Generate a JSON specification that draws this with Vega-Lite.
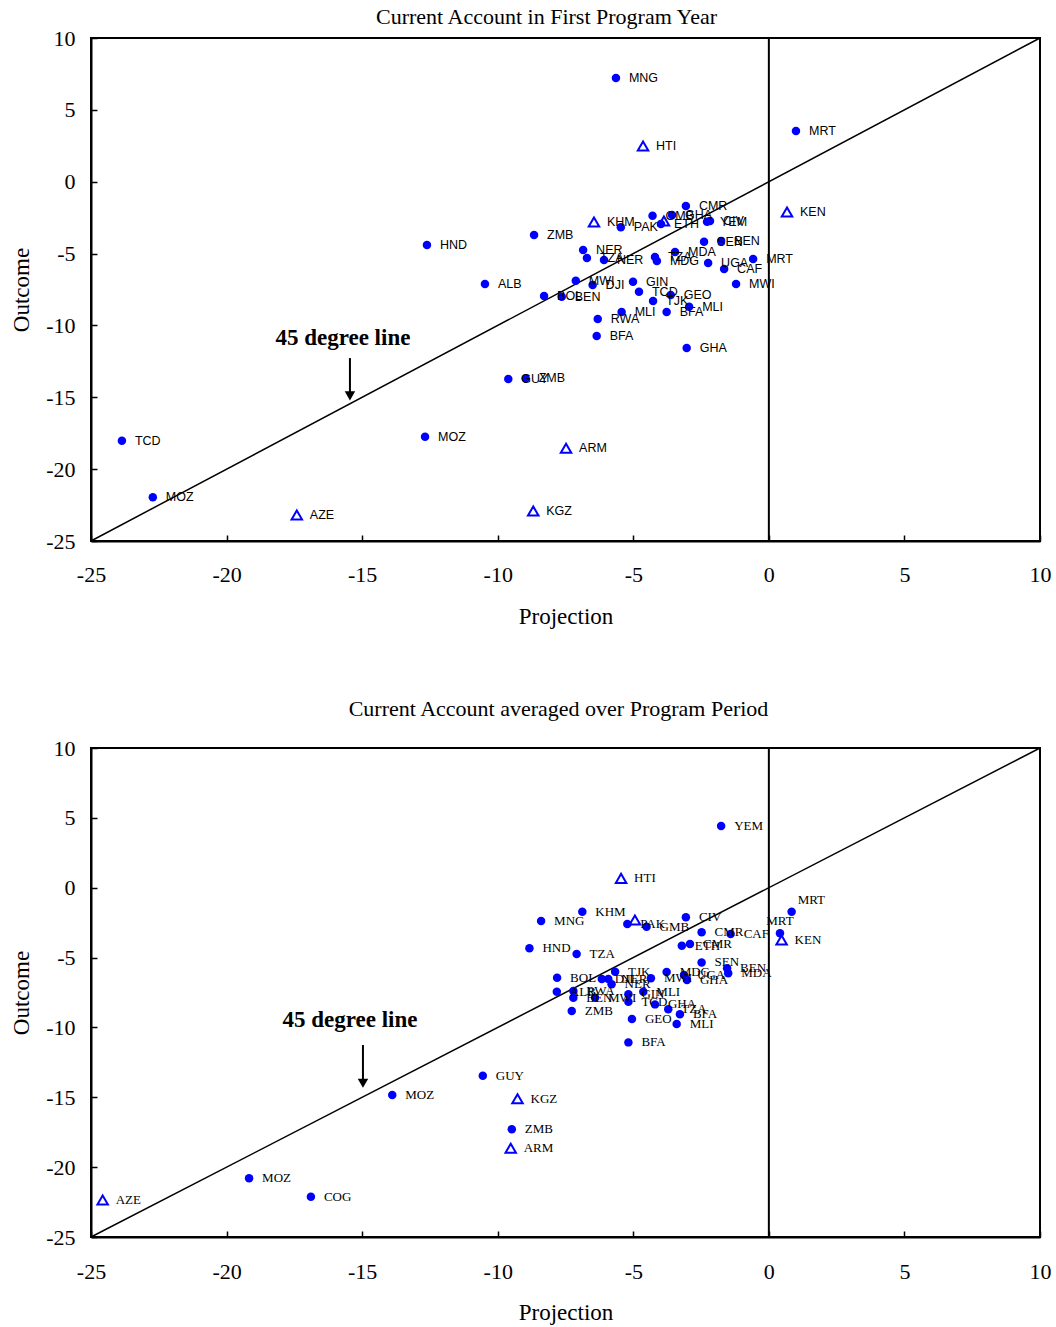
{
  "$schema": "https://vega.github.io/schema/vega-lite/v6.json",
  "padding": {"left": 9, "top": 5, "right": 10, "bottom": 5},
  "background": "white",
  "config": {
    "view": {"stroke": "black", "strokeWidth": 2},
    "font": "Liberation Serif",
    "axis": {
      "grid": false,
      "tickSize": -6,
      "tickColor": "black",
      "tickWidth": 1.5,
      "domainColor": "black",
      "domainWidth": 2,
      "labelFont": "Liberation Serif",
      "labelFontSize": 22,
      "labelColor": "black",
      "labelFlush": false,
      "labelOverlap": false,
      "titleFont": "Liberation Serif",
      "titleFontSize": 23,
      "titleFontWeight": "normal",
      "titleColor": "black"
    },
    "title": {"font": "Liberation Serif", "fontSize": 22, "fontWeight": "normal", "color": "black"}
  },
  "datasets": {
    "top": [
      {"c": "MNG", "x": -5.64, "y": 7.22, "m": "dot"},
      {"c": "MRT", "x": 1.00, "y": 3.53, "m": "dot"},
      {"c": "HTI", "x": -4.64, "y": 2.48, "m": "tri"},
      {"c": "KEN", "x": 0.67, "y": -2.11, "m": "tri"},
      {"c": "CMR", "x": -3.06, "y": -1.69, "m": "dot"},
      {"c": "KHM", "x": -6.45, "y": -2.80, "m": "tri"},
      {"c": "PAK", "x": -5.46, "y": -3.17, "m": "dot"},
      {"c": "GMB", "x": -4.29, "y": -2.37, "m": "dot"},
      {"c": "GHA", "x": -3.57, "y": -2.32, "m": "dot"},
      {"c": "", "x": -3.87, "y": -2.73, "m": "tri"},
      {"c": "ETH", "x": -3.98, "y": -2.94, "m": "dot"},
      {"c": "YEM", "x": -2.28, "y": -2.78, "m": "dot"},
      {"c": "CIV", "x": -2.17, "y": -2.74, "m": "dot"},
      {"c": "SEN", "x": -2.39, "y": -4.17, "m": "dot"},
      {"c": "BEN", "x": -1.76, "y": -4.13, "m": "dot"},
      {"c": "NER", "x": -6.85, "y": -4.75, "m": "dot"},
      {"c": "TZA", "x": -6.71, "y": -5.31, "m": "dot"},
      {"c": "NER", "x": -6.08, "y": -5.45, "m": "dot"},
      {"c": "TZA", "x": -4.20, "y": -5.24, "m": "dot"},
      {"c": "MDG", "x": -4.13, "y": -5.52, "m": "dot"},
      {"c": "MDA", "x": -3.46, "y": -4.89, "m": "dot"},
      {"c": "UGA", "x": -2.24, "y": -5.66, "m": "dot"},
      {"c": "CAF", "x": -1.65, "y": -6.07, "m": "dot"},
      {"c": "MRT", "x": -0.58, "y": -5.38, "m": "dot"},
      {"c": "MWI", "x": -1.21, "y": -7.12, "m": "dot"},
      {"c": "ZMB", "x": -8.66, "y": -3.71, "m": "dot"},
      {"c": "HND", "x": -12.61, "y": -4.40, "m": "dot"},
      {"c": "ALB", "x": -10.47, "y": -7.12, "m": "dot"},
      {"c": "MWI", "x": -7.12, "y": -6.89, "m": "dot"},
      {"c": "DJI", "x": -6.50, "y": -7.19, "m": "dot"},
      {"c": "GIN", "x": -5.01, "y": -6.96, "m": "dot"},
      {"c": "TCD", "x": -4.79, "y": -7.65, "m": "dot"},
      {"c": "GEO", "x": -3.62, "y": -7.88, "m": "dot"},
      {"c": "TJK", "x": -4.27, "y": -8.30, "m": "dot"},
      {"c": "MLI", "x": -2.94, "y": -8.70, "m": "dot"},
      {"c": "BFA", "x": -3.77, "y": -9.07, "m": "dot"},
      {"c": "MLI", "x": -5.43, "y": -9.07, "m": "dot"},
      {"c": "RWA", "x": -6.31, "y": -9.55, "m": "dot"},
      {"c": "BFA", "x": -6.35, "y": -10.74, "m": "dot"},
      {"c": "GHA", "x": -3.03, "y": -11.57, "m": "dot"},
      {"c": "BOL", "x": -8.29, "y": -7.95, "m": "dot"},
      {"c": "BEN", "x": -7.64, "y": -8.00, "m": "dot"},
      {"c": "GUY", "x": -9.61, "y": -13.73, "m": "dot"},
      {"c": "ZMB", "x": -8.97, "y": -13.68, "m": "dot"},
      {"c": "MOZ", "x": -12.68, "y": -17.74, "m": "dot"},
      {"c": "ARM", "x": -7.48, "y": -18.55, "m": "tri"},
      {"c": "KGZ", "x": -8.69, "y": -22.91, "m": "tri"},
      {"c": "TCD", "x": -23.86, "y": -18.02, "m": "dot"},
      {"c": "MOZ", "x": -22.72, "y": -21.96, "m": "dot"},
      {"c": "AZE", "x": -17.41, "y": -23.19, "m": "tri"}
    ],
    "bot": [
      {"c": "YEM", "x": -1.76, "y": 4.42, "m": "dot"},
      {"c": "HTI", "x": -5.45, "y": 0.67, "m": "tri"},
      {"c": "KHM", "x": -6.88, "y": -1.72, "m": "dot"},
      {"c": "MNG", "x": -8.40, "y": -2.38, "m": "dot"},
      {"c": "PAK", "x": -5.22, "y": -2.60, "m": "dot"},
      {"c": "", "x": -4.94, "y": -2.31, "m": "tri"},
      {"c": "GMB", "x": -4.51, "y": -2.79, "m": "dot"},
      {"c": "CIV", "x": -3.06, "y": -2.12, "m": "dot"},
      {"c": "CMR", "x": -2.48, "y": -3.19, "m": "dot"},
      {"c": "CAF", "x": -1.41, "y": -3.31, "m": "dot"},
      {"c": "ETH", "x": -3.21, "y": -4.15, "m": "dot"},
      {"c": "CMR", "x": -2.91, "y": -4.03, "m": "dot"},
      {"c": "HND", "x": -8.83, "y": -4.34, "m": "dot"},
      {"c": "MRT", "x": 0.84, "y": -1.72, "m": "dot"},
      {"c": "MRT", "x": 0.41, "y": -3.26, "m": "dot"},
      {"c": "KEN", "x": 0.47, "y": -3.74, "m": "tri"},
      {"c": "TZA", "x": -7.09, "y": -4.74, "m": "dot"},
      {"c": "SEN", "x": -2.48, "y": -5.35, "m": "dot"},
      {"c": "BEN", "x": -1.54, "y": -5.77, "m": "dot"},
      {"c": "MDA", "x": -1.50, "y": -6.13, "m": "dot"},
      {"c": "BOL", "x": -7.81, "y": -6.44, "m": "dot"},
      {"c": "DJI", "x": -6.16, "y": -6.53, "m": "dot"},
      {"c": "NER", "x": -5.92, "y": -6.53, "m": "dot"},
      {"c": "TJK", "x": -5.67, "y": -6.01, "m": "dot"},
      {"c": "NER", "x": -5.80, "y": -6.91, "m": "dot"},
      {"c": "MWI", "x": -4.35, "y": -6.48, "m": "dot"},
      {"c": "MDG", "x": -3.77, "y": -6.03, "m": "dot"},
      {"c": "UGA", "x": -3.13, "y": -6.25, "m": "dot"},
      {"c": "GHA", "x": -3.02, "y": -6.61, "m": "dot"},
      {"c": "ALB", "x": -7.82, "y": -7.44, "m": "dot"},
      {"c": "RWA", "x": -7.21, "y": -7.39, "m": "dot"},
      {"c": "BEN", "x": -7.21, "y": -7.87, "m": "dot"},
      {"c": "MWI", "x": -6.41, "y": -7.87, "m": "dot"},
      {"c": "GIN", "x": -5.18, "y": -7.63, "m": "dot"},
      {"c": "MLI", "x": -4.63, "y": -7.44, "m": "dot"},
      {"c": "TCD", "x": -5.18, "y": -8.16, "m": "dot"},
      {"c": "GHA", "x": -4.20, "y": -8.35, "m": "dot"},
      {"c": "TZA", "x": -3.71, "y": -8.70, "m": "dot"},
      {"c": "BFA", "x": -3.28, "y": -9.06, "m": "dot"},
      {"c": "MLI", "x": -3.40, "y": -9.76, "m": "dot"},
      {"c": "ZMB", "x": -7.27, "y": -8.82, "m": "dot"},
      {"c": "GEO", "x": -5.05, "y": -9.40, "m": "dot"},
      {"c": "BFA", "x": -5.18, "y": -11.07, "m": "dot"},
      {"c": "GUY", "x": -10.55, "y": -13.46, "m": "dot"},
      {"c": "KGZ", "x": -9.27, "y": -15.10, "m": "tri"},
      {"c": "MOZ", "x": -13.89, "y": -14.84, "m": "dot"},
      {"c": "ZMB", "x": -9.48, "y": -17.29, "m": "dot"},
      {"c": "ARM", "x": -9.52, "y": -18.65, "m": "tri"},
      {"c": "MOZ", "x": -19.17, "y": -20.80, "m": "dot"},
      {"c": "COG", "x": -16.89, "y": -22.12, "m": "dot"},
      {"c": "AZE", "x": -24.57, "y": -22.35, "m": "tri"}
    ],
    "diag": [{"x": -25, "y": -25}, {"x": 10, "y": 10}],
    "vline": [{"x": 0}],
    "annTop": [{"tx": -15.71, "ty": -10.88, "t": "45 degree line", "ax": -15.45, "ay": -12.27, "ay2": -14.9}],
    "annBot": [{"tx": -15.45, "ty": -9.47, "t": "45 degree line", "ax": -14.97, "ay": -11.26, "ay2": -14.0}]
  },
  "spacing": 68,
  "vconcat": [
    {
      "width": 949,
      "height": 503,
      "title": {"text": "Current Account in First Program Year", "dx": -19, "offset": -2},
      "layer": [
        {
          "data": {"name": "diag"},
          "mark": {"type": "line", "color": "black", "strokeWidth": 1.5},
          "encoding": {
            "x": {"field": "x", "type": "quantitative", "scale": {"domain": [-25, 10], "nice": false, "zero": false},
                  "axis": {"values": [-25, -20, -15, -10, -5, 0, 5, 10], "title": "Projection", "labelPadding": 29, "titlePadding": 20, "labelExpr": "'' + datum.value"}},
            "y": {"field": "y", "type": "quantitative", "scale": {"domain": [-25, 10], "nice": false, "zero": false},
                  "axis": {"values": [-25, -20, -15, -10, -5, 0, 5, 10], "title": "Outcome", "labelPadding": 22, "titlePadding": 12, "labelExpr": "'' + datum.value"}}
          }
        },
        {
          "data": {"name": "vline"},
          "mark": {"type": "rule", "color": "black", "strokeWidth": 2},
          "encoding": {"x": {"field": "x", "type": "quantitative"}}
        },
        {
          "data": {"name": "top"},
          "transform": [{"filter": "datum.m == 'dot'"}],
          "mark": {"type": "point", "shape": "circle", "filled": true, "color": "#0000FF", "size": 72, "opacity": 1},
          "encoding": {"x": {"field": "x", "type": "quantitative"}, "y": {"field": "y", "type": "quantitative"}}
        },
        {
          "data": {"name": "top"},
          "transform": [{"filter": "datum.m == 'tri'"}],
          "mark": {"type": "point", "shape": "triangle-up", "filled": false, "color": "#0000FF", "strokeWidth": 2, "size": 110, "opacity": 1},
          "encoding": {"x": {"field": "x", "type": "quantitative"}, "y": {"field": "y", "type": "quantitative"}}
        },
        {
          "data": {"name": "top"},
          "mark": {"type": "text", "align": "left", "baseline": "middle", "dx": 13, "font": "Liberation Sans", "fontSize": 12.5, "color": "black"},
          "encoding": {"x": {"field": "x", "type": "quantitative"}, "y": {"field": "y", "type": "quantitative"}, "text": {"field": "c"}}
        },
        {
          "data": {"name": "annTop"},
          "mark": {"type": "text", "align": "center", "baseline": "middle", "font": "Liberation Serif", "fontSize": 23, "fontWeight": "bold", "color": "black"},
          "encoding": {"x": {"field": "tx", "type": "quantitative"}, "y": {"field": "ty", "type": "quantitative"}, "text": {"field": "t"}}
        },
        {
          "data": {"name": "annTop"},
          "mark": {"type": "rule", "color": "black", "strokeWidth": 2},
          "encoding": {"x": {"field": "ax", "type": "quantitative"}, "y": {"field": "ay", "type": "quantitative"}, "y2": {"field": "ay2"}}
        },
        {
          "data": {"name": "annTop"},
          "mark": {"type": "point", "shape": "triangle-down", "filled": true, "color": "black", "size": 110, "opacity": 1},
          "encoding": {"x": {"field": "ax", "type": "quantitative"}, "y": {"field": "ay2", "type": "quantitative"}}
        }
      ]
    },
    {
      "width": 949,
      "height": 489,
      "title": {"text": "Current Account averaged over Program Period", "dx": -7, "offset": 16},
      "layer": [
        {
          "data": {"name": "diag"},
          "mark": {"type": "line", "color": "black", "strokeWidth": 1.5},
          "encoding": {
            "x": {"field": "x", "type": "quantitative", "scale": {"domain": [-25, 10], "nice": false, "zero": false},
                  "axis": {"values": [-25, -20, -15, -10, -5, 0, 5, 10], "title": "Projection", "labelPadding": 30, "titlePadding": 19, "labelExpr": "'' + datum.value"}},
            "y": {"field": "y", "type": "quantitative", "scale": {"domain": [-25, 10], "nice": false, "zero": false},
                  "axis": {"values": [-25, -20, -15, -10, -5, 0, 5, 10], "title": "Outcome", "labelPadding": 22, "titlePadding": 12, "labelExpr": "'' + datum.value"}}
          }
        },
        {
          "data": {"name": "vline"},
          "mark": {"type": "rule", "color": "black", "strokeWidth": 2},
          "encoding": {"x": {"field": "x", "type": "quantitative"}}
        },
        {
          "data": {"name": "bot"},
          "transform": [{"filter": "datum.m == 'dot'"}],
          "mark": {"type": "point", "shape": "circle", "filled": true, "color": "#0000FF", "size": 72, "opacity": 1},
          "encoding": {"x": {"field": "x", "type": "quantitative"}, "y": {"field": "y", "type": "quantitative"}}
        },
        {
          "data": {"name": "bot"},
          "transform": [{"filter": "datum.m == 'tri'"}],
          "mark": {"type": "point", "shape": "triangle-up", "filled": false, "color": "#0000FF", "strokeWidth": 2, "size": 110, "opacity": 1},
          "encoding": {"x": {"field": "x", "type": "quantitative"}, "y": {"field": "y", "type": "quantitative"}}
        },
        {
          "data": {"name": "bot"},
          "transform": [{"filter": "datum.c != 'MRT'"}],
          "mark": {"type": "text", "align": "left", "baseline": "middle", "dx": 13, "font": "Liberation Serif", "fontSize": 13, "color": "black"},
          "encoding": {"x": {"field": "x", "type": "quantitative"}, "y": {"field": "y", "type": "quantitative"}, "text": {"field": "c"}}
        },
        {
          "data": {"name": "bot"},
          "transform": [{"filter": "datum.c == 'MRT' && datum.x > 0.6"}],
          "mark": {"type": "text", "align": "left", "baseline": "middle", "dx": 6, "dy": -12, "font": "Liberation Serif", "fontSize": 13, "color": "black"},
          "encoding": {"x": {"field": "x", "type": "quantitative"}, "y": {"field": "y", "type": "quantitative"}, "text": {"field": "c"}}
        },
        {
          "data": {"name": "bot"},
          "transform": [{"filter": "datum.c == 'MRT' && datum.x < 0.6"}],
          "mark": {"type": "text", "align": "center", "baseline": "middle", "dx": 0, "dy": -12, "font": "Liberation Serif", "fontSize": 13, "color": "black"},
          "encoding": {"x": {"field": "x", "type": "quantitative"}, "y": {"field": "y", "type": "quantitative"}, "text": {"field": "c"}}
        },
        {
          "data": {"name": "annBot"},
          "mark": {"type": "text", "align": "center", "baseline": "middle", "font": "Liberation Serif", "fontSize": 23, "fontWeight": "bold", "color": "black"},
          "encoding": {"x": {"field": "tx", "type": "quantitative"}, "y": {"field": "ty", "type": "quantitative"}, "text": {"field": "t"}}
        },
        {
          "data": {"name": "annBot"},
          "mark": {"type": "rule", "color": "black", "strokeWidth": 2},
          "encoding": {"x": {"field": "ax", "type": "quantitative"}, "y": {"field": "ay", "type": "quantitative"}, "y2": {"field": "ay2"}}
        },
        {
          "data": {"name": "annBot"},
          "mark": {"type": "point", "shape": "triangle-down", "filled": true, "color": "black", "size": 110, "opacity": 1},
          "encoding": {"x": {"field": "ax", "type": "quantitative"}, "y": {"field": "ay2", "type": "quantitative"}}
        }
      ]
    }
  ]
}
